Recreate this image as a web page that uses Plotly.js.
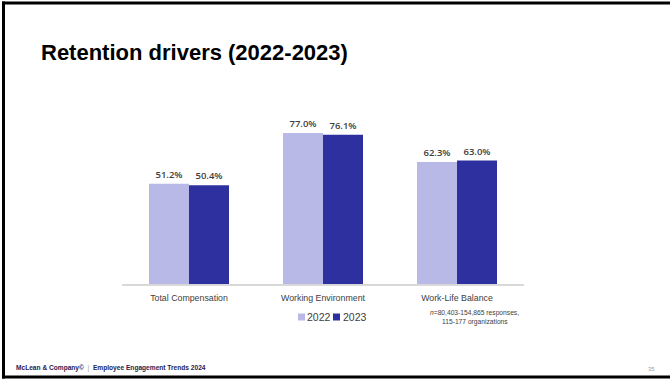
<!DOCTYPE html>
<html>
<head>
<meta charset="utf-8">
<script src="https://cdn.plot.ly/plotly-3.0.1.min.js"></script>
<style>
  html, body { margin: 0; padding: 0; background: #ffffff; }
  #chart { width: 670px; height: 381px; }
</style>
</head>
<body>
<div id="chart"></div>
<script>
// ---- data ----
const categories = ["Total Compensation", "Working Environment", "Work-Life Balance"];
const seriesNames = ["2022", "2023"];
const values2022 = [51.2, 77.0, 62.3];
const values2023 = [50.4, 76.1, 63.0];
const seriesColors = ["#B9B9E8", "#2E30A0"];
const titleText = "Retention drivers (2022-2023)";
const noteLines = ["<i>n</i>=80,403-154,865 responses,", "115-177 organizations"];
const footerText = "<b>McLean &amp; Company©</b> <span style='color:#9a9a9a'> | </span> <b>Employee Engagement Trends 2024</b>";
const pageNumber = "35";

// ---- layout geometry (pixels) ----
const W = 670, H = 381;
const M = { l: 122, r: 146, t: 88, b: 97 };
const PW = W - M.l - M.r, PH = H - M.t - M.b;
const px = x => (x - M.l) / PW;
const py = y => (H - M.b - y) / PH;

const FONT = "Liberation Sans, Arial, sans-serif";

const traces = [values2022, values2023].map((vals, i) => ({
  type: "bar",
  name: seriesNames[i],
  x: categories,
  y: vals,
  marker: { color: seriesColors[i], line: { width: 0 } },
  text: vals.map(v => v.toFixed(1) + "%"),
  textposition: "outside",
  textangle: 0,
  cliponaxis: false,
  textfont: { family: "Open Sans, sans-serif", size: 9.5, weight: 600, color: "#404040" },
  hoverinfo: "skip",
  showlegend: false
}));

const frameLine = { color: "#000000", width: 3 };
const shapes = [
  // slide frame: top, left, bottom
  { type: "line", xref: "paper", yref: "paper", x0: px(2), x1: px(670), y0: py(3), y1: py(3), line: frameLine, layer: "above" },
  { type: "line", xref: "paper", yref: "paper", x0: px(3.5), x1: px(3.5), y0: py(1.5), y1: py(378.5), line: frameLine, layer: "above" },
  { type: "line", xref: "paper", yref: "paper", x0: px(2), x1: px(670), y0: py(377), y1: py(377), line: frameLine, layer: "above" },
  // legend swatches
  { type: "rect", xref: "paper", yref: "paper", x0: px(298), x1: px(305), y0: py(320.5), y1: py(313.5),
    line: { width: 0 }, fillcolor: seriesColors[0] },
  { type: "rect", xref: "paper", yref: "paper", x0: px(333), x1: px(340), y0: py(320.5), y1: py(313.5),
    line: { width: 0 }, fillcolor: seriesColors[1] }
];

const annotations = [
  { text: "<b>" + titleText + "</b>", xref: "paper", yref: "paper", x: px(39), y: py(52),
    xanchor: "left", yanchor: "middle", showarrow: false,
    font: { family: FONT, size: 22, color: "#000000" } },
  { text: seriesNames[0], xref: "paper", yref: "paper", x: px(305), y: py(317),
    xanchor: "left", yanchor: "middle", showarrow: false,
    font: { family: FONT, size: 10.5, color: "#404040" } },
  { text: seriesNames[1], xref: "paper", yref: "paper", x: px(340.5), y: py(317),
    xanchor: "left", yanchor: "middle", showarrow: false,
    font: { family: FONT, size: 10.5, color: "#404040" } },
  { text: noteLines[0], xref: "paper", yref: "paper", x: px(474.5), y: py(312.5),
    xanchor: "center", yanchor: "middle", showarrow: false,
    font: { family: FONT, size: 6.7, color: "#404040" } },
  { text: noteLines[1], xref: "paper", yref: "paper", x: px(475), y: py(321.5),
    xanchor: "center", yanchor: "middle", showarrow: false,
    font: { family: FONT, size: 6.7, color: "#404040" } },
  { text: footerText, xref: "paper", yref: "paper", x: px(14), y: py(368),
    xanchor: "left", yanchor: "middle", showarrow: false,
    font: { family: FONT, size: 6.6, color: "#1f2152" } },
  { text: pageNumber, xref: "paper", yref: "paper", x: px(657), y: py(368.5),
    xanchor: "right", yanchor: "middle", showarrow: false,
    font: { family: FONT, size: 6, color: "#a0a0a0" } }
];

const layout = {
  width: W, height: H,
  margin: M,
  paper_bgcolor: "#ffffff",
  plot_bgcolor: "#ffffff",
  barmode: "group",
  bargap: 0.403,
  bargroupgap: 0,
  showlegend: false,
  xaxis: {
    type: "category",
    range: [-0.5, 2.5],
    showline: true, linecolor: "#d9d9d9", linewidth: 1.5,
    showgrid: false, zeroline: false,
    ticks: "", ticklabelstandoff: 5,
    tickfont: { family: FONT, size: 8.8, color: "#404040" },
    fixedrange: true
  },
  yaxis: {
    range: [0, 100],
    visible: false,
    showgrid: false, zeroline: false,
    fixedrange: true
  },
  shapes: shapes,
  annotations: annotations
};

Plotly.newPlot("chart", traces, layout, { displayModeBar: false, staticPlot: true });
</script>
</body>
</html>
